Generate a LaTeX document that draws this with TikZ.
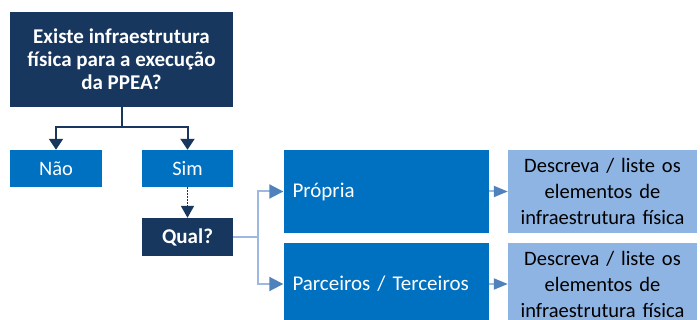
\documentclass[tikz,border=0pt]{standalone}
\usepackage{fontspec}
\setmainfont{Carlito}
\usepackage{tikz}
\usetikzlibrary{arrows.meta}

\definecolor{navy}{HTML}{17375E}
\definecolor{midblue}{HTML}{0070C0}
\definecolor{paleblue}{HTML}{8EB4E3}
\definecolor{steel}{HTML}{4F81BD}
\definecolor{linkblue}{HTML}{9DB9E0}

\begin{document}
\begin{tikzpicture}[x=1pt,y=-1pt,
    box/.style={rectangle,inner sep=0pt,align=center,font=\fontsize{20.5}{23}\selectfont},
    darkbox/.style={box,fill=navy,text=white,font=\fontsize{21}{23}\selectfont\bfseries},
    bluebox/.style={box,fill=midblue,text=white},
    sidebox/.style={box,fill=midblue,text=white,align=left,inner xsep=9pt,text width=187pt,minimum height=83pt,font=\fontsize{21}{23}\selectfont},
    listbox/.style={box,fill=paleblue,text=black,text width=189pt,minimum height=83pt,font=\fontsize{20.5}{26}\selectfont},
    navyarrow/.style={navy,line width=2pt,-{Triangle[width=14pt,length=11pt]}},
    steelarrow/.style={linkblue,line width=2pt,-{Triangle[width=14pt,length=14pt,fill=steel,color=steel]}},
    smallarrow/.style={linkblue,line width=2pt,-{Triangle[width=11pt,length=14pt,fill=steel,color=steel]}}]
  \useasboundingbox (0,0) rectangle (700,320);
  \node[darkbox,minimum width=223pt,minimum height=95pt] (q) at (121.5,59.5)
    {Existe infraestrutura\\física para a execução\\da PPEA?};
  \node[bluebox,minimum width=92pt,minimum height=37pt] (nao) at (56,168.5) {Não};
  \node[bluebox,minimum width=91pt,minimum height=37pt] (sim) at (187.5,168.5) {Sim};
  \node[darkbox,minimum width=91pt,minimum height=38pt] (qual) at (187.5,237) {Qual?};
  \node[sidebox] (propria) at (386,191.5) {Própria};
  \node[sidebox] (parc) at (386,284) {Parceiros / Terceiros};
  \node[listbox] (desc1) at (602.5,191.5) {Descreva / liste os\\elementos de\\infraestrutura física};
  \node[listbox] (desc2) at (602.5,284) {Descreva / liste os\\elementos de\\infraestrutura física};
  \coordinate (fork) at (121.5,127);
  \coordinate (split) at (258,237);
  \draw[navy,line width=2pt] (q.south) -- (fork);
  \draw[navyarrow] (fork) -| (nao.north);
  \draw[navyarrow] (fork) -| (sim.north);
  \draw[navy,line width=1.8pt,dash pattern=on 1.5pt off 1.5pt,-{Triangle[width=13pt,length=12pt,sep=0pt]}] (sim.south) -- (qual.north);
  \draw[linkblue,line width=2pt] (qual.east) -- (split);
  \draw[steelarrow] (split) |- (propria.west);
  \draw[steelarrow] (split) |- (parc.west);
  \draw[smallarrow] (propria.east) -- (desc1.west);
  \draw[smallarrow] (parc.east) -- (desc2.west);
\end{tikzpicture}
\end{document}
